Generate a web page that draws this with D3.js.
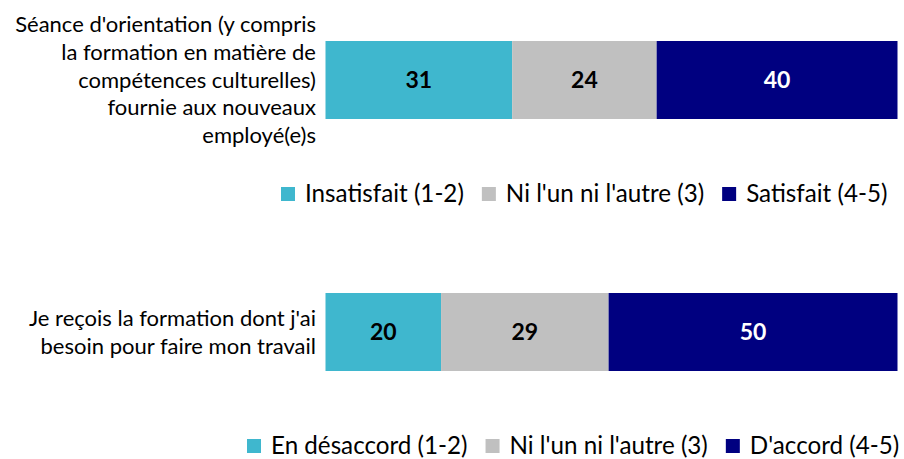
<!DOCTYPE html>
<html>
<head>
<meta charset="utf-8">
<script src="https://cdn.jsdelivr.net/npm/d3@7"></script>
<style>
  html, body { margin: 0; padding: 0; background: #fff; }
  svg { display: block; }
  text { font-family: "Lato", "Liberation Sans", sans-serif; }
</style>
</head>
<body>
<svg id="chart" width="904" height="459"></svg>
<script>
// ---- data ----
const categories = [
  ["Séance d'orientation (y compris", "la formation en matière de", "compétences culturelles)", "fournie aux nouveaux", "employé(e)s"],
  ["Je reçois la formation dont j'ai", "besoin pour faire mon travail"]
];
const negativeValues = [31, 20];
const neutralValues = [24, 29];
const positiveValues = [40, 50];
const legendLabels1 = ["Insatisfait (1-2)", "Ni l'un ni l'autre (3)", "Satisfait (4-5)"];
const legendLabels2 = ["En désaccord (1-2)", "Ni l'un ni l'autre (3)", "D'accord (4-5)"];
const seriesColors = ["#3FB7CE", "#C0C0C0", "#000080"];
const labelColors = ["#000", "#000", "#fff"];

const svg = d3.select("#chart");
const catFont = 22;
const legFont = 24.2;
const valFont = 23;
const barH = 78;
const y = d3.scalePoint().domain([0, 1]).range([80, 332]);
const legends = [legendLabels1, legendLabels2];
const legendStarts = [281, 247];
const lineH = 27.7;

[0, 1].forEach(i => {
  const vals = [negativeValues[i], neutralValues[i], positiveValues[i]];
  const total = d3.sum(vals);
  const x = d3.scaleLinear().domain([0, total]).range([325.5, 897.5]);
  const cy = y(i);
  const stack = [];
  let acc = 0;
  vals.forEach((v, k) => { stack.push({k, v, x0: acc, x1: acc + v}); acc += v; });
  const g = svg.append("g");
  g.selectAll("rect").data(stack).join("rect")
    .attr("x", d => x(d.x0)).attr("width", d => x(d.x1) - x(d.x0))
    .attr("y", cy - barH / 2).attr("height", barH)
    .attr("fill", d => seriesColors[d.k]);
  g.selectAll("text.val").data(stack).join("text").attr("class", "val")
    .attr("x", d => (x(d.x0) + x(d.x1)) / 2).attr("y", cy)
    .attr("dy", "0.35em").attr("text-anchor", "middle")
    .attr("font-size", valFont).attr("font-weight", "bold")
    .attr("fill", d => labelColors[d.k]).text(d => d.v);

  // category label
  const lines = categories[i];
  const t = svg.append("text").attr("text-anchor", "end").attr("font-size", catFont).attr("fill", "#000");
  lines.forEach((ln, j) => {
    t.append("tspan").attr("x", 316)
      .attr("y", cy + (j - (lines.length - 1) / 2) * lineH)
      .attr("dy", "0.35em").text(ln);
  });

  // legend
  const ly = cy + 114;
  let lx = legendStarts[i];
  legends[i].forEach((lab, k) => {
    svg.append("rect").attr("x", lx).attr("y", ly - 7).attr("width", 14).attr("height", 14)
      .attr("fill", seriesColors[k]);
    const tt = svg.append("text").attr("x", lx + 24).attr("y", ly).attr("dy", "0.35em")
      .attr("font-size", legFont).attr("fill", "#000").text(lab);
    const w = tt.node().getComputedTextLength();
    lx = lx + 24 + w + 18;
  });
});
</script>
</body>
</html>
